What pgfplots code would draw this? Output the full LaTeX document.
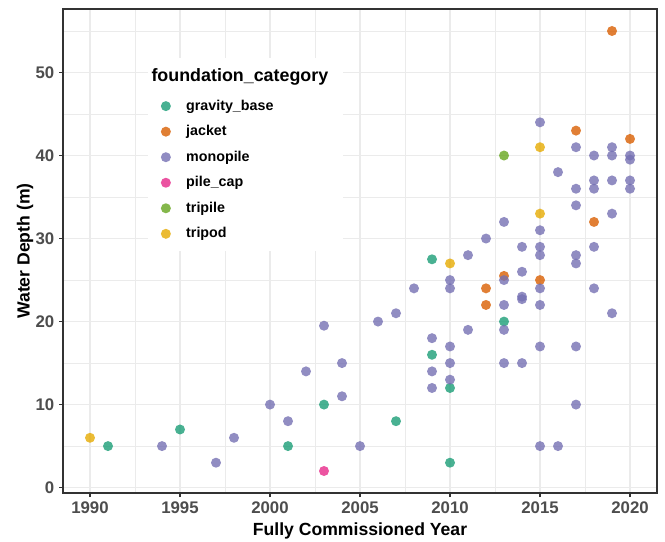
\documentclass[border=0pt]{standalone}
\usepackage{pgfplots}
\pgfplotsset{compat=1.18}
\usepackage{fontspec}
\setmainfont{Liberation Sans}

% Dark2 palette
\definecolor{cgrav}{HTML}{1B9E77}
\definecolor{cjack}{HTML}{D95F02}
\definecolor{cmono}{HTML}{7570B3}
\definecolor{cpile}{HTML}{E7298A}
\definecolor{ctrip}{HTML}{66A61E}
\definecolor{ctpod}{HTML}{E6AB02}
\definecolor{gray92}{HTML}{EBEBEB}
\definecolor{gray20}{HTML}{333333}
\definecolor{gray30}{HTML}{4D4D4D}

\pgfplotsset{
  pt/.style={only marks, mark=*, mark size=3.75pt, color=#1,
    mark options={solid, fill=#1, fill opacity=0.8, draw opacity=0},
    legend image code/.code={%
      \path[draw=none, fill=none] (0pt,-1pt) rectangle (8.5pt,1pt);
      \draw[##1] plot coordinates {(4.25pt,0pt)};}},
}

\begin{document}
\begin{tikzpicture}
\begin{axis}[
  scale only axis, width=445.5pt, height=363pt,
  xmin=1988.5, xmax=2021.5, ymin=-0.65, ymax=57.65,
  xtick={1990,1995,...,2020}, ytick={0,10,...,50},
  minor xtick={1992.5,1997.5,...,2017.5},
  minor ytick={5,15,...,55},
  grid=both,
  major grid style={draw=gray92, line width=1.1pt},
  minor grid style={draw=gray92, line width=0.55pt},
  axis line style={draw=gray20, line width=1pt},
  tick style={draw=gray20, line width=0.9pt},
  tick align=outside, tick pos=left,
  major tick length=3pt, minor tick length=0pt,
  /pgf/number format/1000 sep={},
  /pgf/number format/assume math mode=true,
  ticklabel style={font=\bfseries\fontsize{12.6}{14}\selectfont, text=gray30},
  xlabel={Fully Commissioned Year}, ylabel={Water Depth (m)},
  every axis x label/.style={at={(rel axis cs:0.5,-0.0785)}, anchor=center,
    font=\bfseries\fontsize{13.2}{15}\selectfont},
  every axis y label/.style={at={(rel axis cs:-0.064,0.5)}, rotate=90, anchor=center,
    font=\bfseries\fontsize{13.2}{15}\selectfont},
  legend cell align=left,
  legend style={at={(0.143,0.899)}, anchor=north west, draw=none, fill=white,
    inner xsep=9pt, inner ysep=8pt, row sep=9.9pt,
    font=\bfseries\fontsize{10.7}{12}\selectfont,
    nodes={inner ysep=0pt},
    /tikz/every odd column/.append style={column sep=9pt}},
]
\addlegendimage{empty legend}
\addlegendentry{\hspace*{-26pt}\raisebox{2.25pt}{\fontsize{13.4}{15}\selectfont foundation\_category}\rule[-9.5pt]{0pt}{1pt}}

\addplot[pt=cgrav] coordinates {
  (1991,5) (1995,7) (2001,5) (2003,10) (2007,8)
  (2009,27.5) (2009,16) (2010,12) (2010,3) (2013,20)
};
\addlegendentry{gravity\_base}

\addplot[pt=cjack] coordinates {
  (2012,24) (2012,22) (2013,25.5) (2015,25) (2017,43)
  (2018,32) (2019,55) (2020,42)
};
\addlegendentry{jacket}

\addplot[pt=cmono] coordinates {
  (1994,5) (1997,3) (1998,6) (2000,10) (2001,8) (2002,14)
  (2003,19.5) (2004,15) (2004,11) (2005,5) (2006,20) (2007,21)
  (2008,24) (2009,18) (2009,14) (2009,12)
  (2010,25) (2010,24) (2010,17) (2010,15) (2010,13)
  (2011,28) (2011,19) (2012,30)
  (2013,32) (2013,25) (2013,22) (2013,19) (2013,15)
  (2014,29) (2014,26) (2014,23) (2014,22.7) (2014,15)
  (2015,44) (2015,31) (2015,29) (2015,28) (2015,24) (2015,22) (2015,17) (2015,5)
  (2016,38) (2016,5)
  (2017,41) (2017,36) (2017,34) (2017,28) (2017,27) (2017,17) (2017,10)
  (2018,40) (2018,37) (2018,36) (2018,29) (2018,24)
  (2019,41) (2019,40) (2019,37) (2019,33) (2019,21)
  (2020,40) (2020,39.5) (2020,37) (2020,36)
};
\addlegendentry{monopile}

\addplot[pt=cpile] coordinates {(2003,2)};
\addlegendentry{pile\_cap}

\addplot[pt=ctrip] coordinates {(2013,40)};
\addlegendentry{tripile}

\addplot[pt=ctpod] coordinates {(1990,6) (2010,27) (2015,41) (2015,33)};
\addlegendentry{tripod}
\end{axis}
\pgfresetboundingbox
\path ([shift={(-47.25pt,-36pt)}]current axis.south west)
  rectangle ([shift={(6pt,6.75pt)}]current axis.north east);
\end{tikzpicture}
\end{document}
